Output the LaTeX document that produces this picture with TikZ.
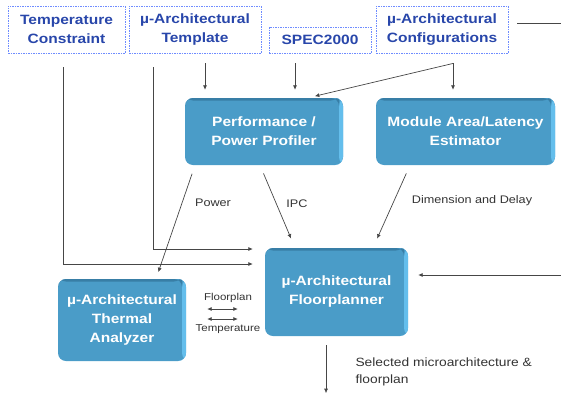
\documentclass[tikz,border=0pt]{standalone}
\usepackage{fontspec}
\setmainfont{Liberation Sans}[FakeStretch=1.15]
\usetikzlibrary{arrows.meta}

\definecolor{inputblue}{RGB}{40,70,170}
\definecolor{dashblue}{RGB}{110,140,255}
\definecolor{boxblue}{RGB}{74,156,200}
\definecolor{boxlight}{RGB}{100,190,236}
\definecolor{boxdark}{RGB}{56,126,166}
\definecolor{wirecol}{RGB}{70,70,70}

\tikzset{
  inputbox/.style={draw=dashblue, dash pattern=on 1.5pt off 1pt, line width=0.9pt,
    text=inputblue, font=\bfseries\fontsize{13.5}{19}\selectfont, align=center, inner sep=0pt},
  blockbox/.style={fill=boxblue, rounded corners=8pt, text=white,
    font=\bfseries\fontsize{13.5}{19}\selectfont, align=center, inner sep=0pt,
    path picture={
      \fill[boxlight] ([xshift=-4pt]path picture bounding box.north east) rectangle (path picture bounding box.south east);
      \fill[boxdark] (path picture bounding box.north west) rectangle ([yshift=-2.5pt,xshift=-4pt]path picture bounding box.north east);
    }},
  wire/.style={draw=wirecol, line width=0.7pt},
  lbl/.style={font=\fontsize{11}{17}\selectfont, text=black!80}
}

\begin{document}
\begin{tikzpicture}[x=1pt, y=-1pt, >={Latex[length=4.5pt,width=4pt]}]
  \clip (0,0) rectangle (561,399);

  % Inputs
  \node[inputbox, minimum width=117pt, minimum height=47pt] (temp) at (66.5,29.5) {Temperature\\Constraint};
  \node[inputbox, minimum width=132pt, minimum height=47pt] (tmpl) at (195,29.5) {µ-Architectural\\Template};
  \node[inputbox, minimum width=102pt, minimum height=26pt] (spec) at (320,40) {SPEC2000};
  \node[inputbox, minimum width=132pt, minimum height=47pt] (conf) at (442,29.5) {µ-Architectural\\Configurations};

  % Blocks
  \node[blockbox, minimum width=158pt, minimum height=67pt] (prof) at (264,131.5) {Performance /\\Power Profiler};
  \node[blockbox, minimum width=179pt, minimum height=67pt] (est) at (465.5,131.5) {Module Area/Latency\\Estimator};
  \node[blockbox, minimum width=143pt, minimum height=88pt] (floor) at (336.5,292) {µ-Architectural\\Floorplanner};
  \node[blockbox, minimum width=128pt, minimum height=82pt] (therm) at (122,320) {µ-Architectural\\Thermal\\Analyzer};

  % Inputs to profiler, estimator and floorplanner
  \draw[wire,->, shorten <=14pt, shorten >=12pt] ([xshift=-3.5pt]temp.south) |- ([yshift=28pt]floor.west);
  \draw[wire,->, shorten <=14pt, shorten >=12pt] ([xshift=-42pt]tmpl.south) |- ([yshift=43pt]floor.west);
  \draw[wire,->, shorten <=10pt, shorten >=8pt] ([xshift=10pt]tmpl.south) -- ([xshift=-59pt]prof.north);
  \draw[wire,->, shorten <=10pt, shorten >=8pt] ([xshift=-25pt]spec.south) -- ([xshift=31pt]prof.north);
  \coordinate (cfork) at ([xshift=11pt,yshift=-10pt]conf.south);
  \draw[wire,->, shorten >=8pt] (cfork) -- ([xshift=-12.5pt]est.north);
  \draw[wire,->, shorten >=7pt] (cfork) -- ([xshift=44pt]prof.north);

  % Feedback loop
  \draw[wire,->, shorten <=9pt, shorten >=10pt] ([yshift=6.5pt]conf.east) -- ++(80,0) |- ([yshift=17pt]floor.east);

  % Results
  \draw[wire,->, shorten <=9pt, shorten >=7pt] ([xshift=-69pt]prof.south) -- ([xshift=34pt]therm.north);
  \draw[wire,->, shorten <=9pt, shorten >=10pt] ([xshift=-4pt]prof.south) -- ([xshift=-41.5pt]floor.north);
  \draw[wire,->, shorten <=9pt, shorten >=10pt] ([xshift=-55.5pt]est.south) -- ([xshift=36.5pt]floor.north);
  \node[lbl] (powerlbl) at (213,203) {Power};
  \node[lbl] (ipclbl) at (297,204) {IPC};
  \node[lbl] (dimlbl) at (472,201) {Dimension and Delay};

  % Thermal exchange
  \draw[wire,<->, shorten <=21pt, shorten >=27pt] ([yshift=11pt]therm.east) -- ([yshift=11pt]therm.east -| floor.west);
  \draw[wire,<->, shorten <=21pt, shorten >=27pt] ([yshift=1pt]therm.east) -- ([yshift=1pt]therm.east -| floor.west);
  \node[lbl, font=\fontsize{10}{12}\selectfont] (fplbl) at (228,298) {Floorplan};
  \node[lbl, font=\fontsize{10}{12}\selectfont] (templbl) at (228,329) {Temperature};

  % Output
  \draw[wire,->, shorten <=9pt] ([xshift=-10.5pt]floor.south) -- ++(0,57);
  \node[lbl, anchor=north west, align=left, font=\fontsize{12}{17}\selectfont] (outlbl) at (352,354) {Selected microarchitecture \&\\floorplan};
\end{tikzpicture}
\end{document}
